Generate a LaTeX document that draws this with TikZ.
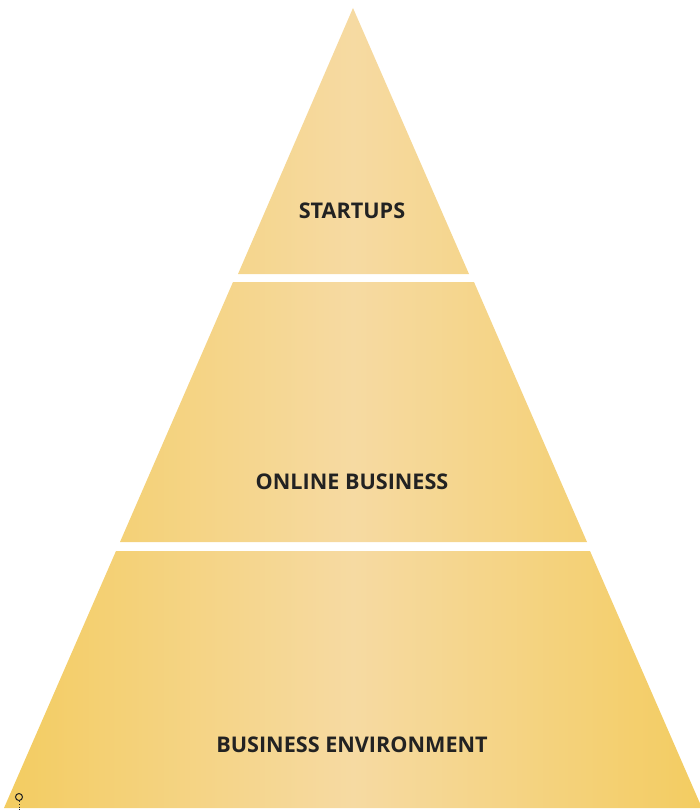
\documentclass[tikz,border=0pt]{standalone}
\usepackage{fontspec}
\setmainfont{Open Sans}
\definecolor{edgeY}{HTML}{F3CC60}
\definecolor{midY}{HTML}{F6DAA2}
\definecolor{txt}{HTML}{222222}
\tikzset{
  label/.style={font=\bfseries\fontsize{21.6}{25}\selectfont, text=txt, inner sep=0pt},
  fillgrad/.style={left color=edgeY, right color=edgeY, middle color=midY, draw=none}
}
\begin{document}
\begin{tikzpicture}[x=1pt,y=-1pt]
\useasboundingbox (0,0) rectangle (699,810);
% top
\begin{scope}
\clip (353,8) -- (469,274) -- (238,274) -- cycle;
\shade[fillgrad] (0,0) rectangle (706,810);
\end{scope}
% middle
\begin{scope}
\clip (233,282) -- (474,282) -- (587,542) -- (120,542) -- cycle;
\shade[fillgrad] (0,0) rectangle (706,810);
\end{scope}
% bottom
\begin{scope}
\clip (116,551) -- (590,551) -- (702,808) -- (4,808) -- cycle;
\shade[fillgrad] (0,0) rectangle (706,810);
\end{scope}
\node[label] (startups) at (352,211) {STARTUPS};
\node[label] (online) at (352,482) {ONLINE BUSINESS};
\node[label] (env) at (352,745) {BUSINESS ENVIRONMENT};
% pin
\coordinate (pinend) at (19,810);
\node[circle, draw=txt, line width=1pt, minimum size=7pt, inner sep=0pt] (pin) at (19,797) {};
\draw[txt, line width=0.8pt, dotted] (pin.south) -- (pinend);
\end{tikzpicture}
\end{document}
